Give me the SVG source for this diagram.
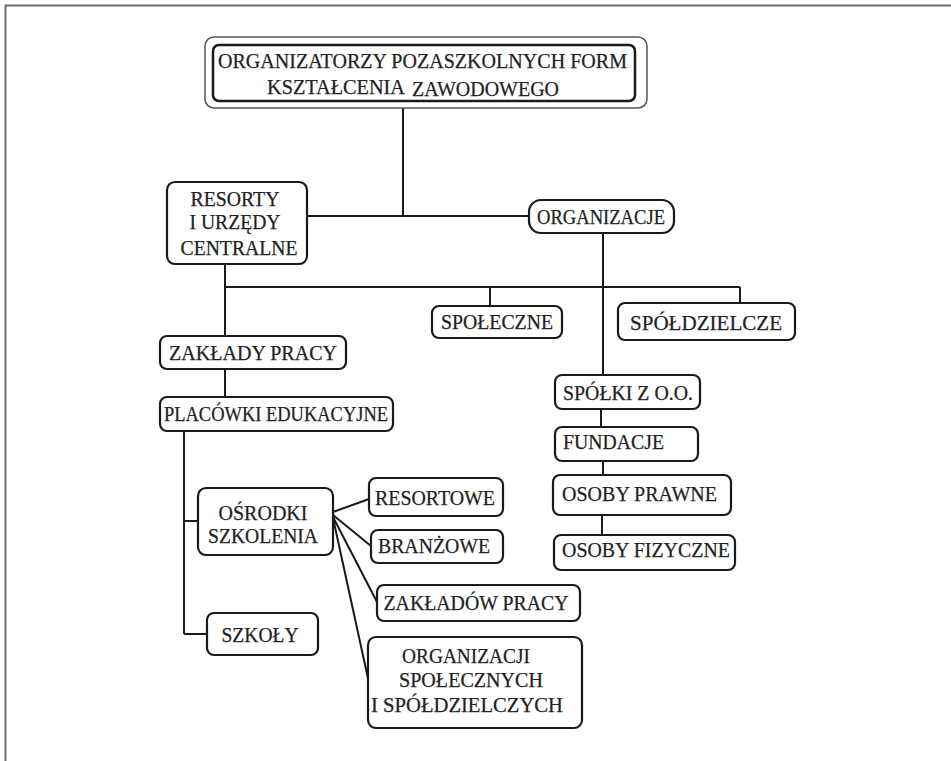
<svg xmlns="http://www.w3.org/2000/svg" width="951" height="761" viewBox="0 0 951 761">
<style>
.box{fill:#fff;stroke:#1a1a1a;stroke-width:2.2}
.ln{fill:none;stroke:#1a1a1a;stroke-width:2}
text{font-family:"Liberation Serif","Times New Roman",serif;font-size:21.5px;fill:#222;stroke:#222;stroke-width:0.25}
.c{text-anchor:middle}
</style>
<rect width="951" height="761" fill="#fff"/>
<path d="M5.5 761V5.5H951" fill="none" stroke="#6e6e6e" stroke-width="2"/>
<g id="connectors">
<path class="ln" d="M403 108V216M307 216H529"/>
<path class="ln" d="M603 233V375"/>
<path class="ln" d="M225 264V336M225 287H740M490 287V306M740 287V303"/>
<path class="ln" d="M225 369V397"/>
<path class="ln" d="M184 431V634M184 521H198M184 634H207"/>
<path class="ln" d="M333 512L369 499M333 515L371 546M333 517L377 602M333 518L369 683"/>
<path class="ln" d="M601 409V427M603 461V475M602 515V535"/>
</g>
<g id="title">
<rect x="205" y="37" width="442" height="71" rx="9" fill="#fff" stroke="#555" stroke-width="1.5"/>
<rect x="213" y="45" width="422" height="56" rx="6" fill="#fff" stroke="#1a1a1a" stroke-width="2.5"/>
<text x="218" y="68" textLength="409" lengthAdjust="spacingAndGlyphs">ORGANIZATORZY POZASZKOLNYCH FORM</text>
<text x="267" y="94" textLength="138" lengthAdjust="spacingAndGlyphs">KSZTAŁCENIA</text>
<text x="412" y="96" textLength="147" lengthAdjust="spacingAndGlyphs">ZAWODOWEGO</text>
</g>
<g id="resorty">
<rect class="box" x="167" y="182" width="140" height="82" rx="8"/>
<text class="c" x="235" y="206" textLength="89" lengthAdjust="spacingAndGlyphs">RESORTY</text>
<text class="c" x="235" y="229" textLength="91" lengthAdjust="spacingAndGlyphs">I URZĘDY</text>
<text class="c" x="239" y="255" textLength="117" lengthAdjust="spacingAndGlyphs">CENTRALNE</text>
</g>
<g id="organizacje">
<rect class="box" x="529" y="200" width="145" height="33" rx="12"/>
<text class="c" x="601" y="224" textLength="128" lengthAdjust="spacingAndGlyphs">ORGANIZACJE</text>
</g>
<g id="spoleczne">
<rect class="box" x="432" y="306" width="130" height="32" rx="7"/>
<text class="c" x="497" y="329" textLength="112" lengthAdjust="spacingAndGlyphs">SPOŁECZNE</text>
</g>
<g id="spoldzielcze">
<rect class="box" x="618" y="303" width="177" height="37" rx="7"/>
<text class="c" x="706" y="330" textLength="152" lengthAdjust="spacingAndGlyphs">SPÓŁDZIELCZE</text>
</g>
<g id="zaklady-pracy">
<rect class="box" x="160" y="336" width="186" height="33" rx="7"/>
<text class="c" x="253" y="360" textLength="168" lengthAdjust="spacingAndGlyphs">ZAKŁADY PRACY</text>
</g>
<g id="placowki">
<rect class="box" x="160" y="397" width="233" height="34" rx="7"/>
<text class="c" x="276" y="421" textLength="224" lengthAdjust="spacingAndGlyphs">PLACÓWKI EDUKACYJNE</text>
</g>
<g id="osrodki">
<rect class="box" x="198" y="488" width="135" height="67" rx="8"/>
<text class="c" x="263" y="520" textLength="89" lengthAdjust="spacingAndGlyphs">OŚRODKI</text>
<text class="c" x="263" y="543" textLength="110" lengthAdjust="spacingAndGlyphs">SZKOLENIA</text>
</g>
<g id="szkoly">
<rect class="box" x="207" y="613" width="111" height="42" rx="7"/>
<text class="c" x="260" y="642" textLength="77" lengthAdjust="spacingAndGlyphs">SZKOŁY</text>
</g>
<g id="resortowe">
<rect class="box" x="369" y="478" width="134" height="38" rx="7"/>
<text class="c" x="435" y="505" textLength="120" lengthAdjust="spacingAndGlyphs">RESORTOWE</text>
</g>
<g id="branzowe">
<rect class="box" x="371" y="530" width="132" height="33" rx="7"/>
<text class="c" x="434" y="553" textLength="112" lengthAdjust="spacingAndGlyphs">BRANŻOWE</text>
</g>
<g id="zakladow-pracy">
<rect class="box" x="377" y="585" width="203" height="36" rx="7"/>
<text class="c" x="476" y="610" textLength="185" lengthAdjust="spacingAndGlyphs">ZAKŁADÓW PRACY</text>
</g>
<g id="organizacji">
<rect class="box" x="368" y="637" width="214" height="91" rx="8"/>
<text class="c" x="466" y="663" textLength="128" lengthAdjust="spacingAndGlyphs">ORGANIZACJI</text>
<text class="c" x="471" y="687" textLength="144" lengthAdjust="spacingAndGlyphs">SPOŁECZNYCH</text>
<text class="c" x="467" y="712" textLength="192" lengthAdjust="spacingAndGlyphs">I SPÓŁDZIELCZYCH</text>
</g>
<g id="spolki">
<rect class="box" x="555" y="375" width="145" height="34" rx="7"/>
<text x="563" y="400" textLength="130" lengthAdjust="spacingAndGlyphs">SPÓŁKI Z O.O.</text>
</g>
<g id="fundacje">
<rect class="box" x="555" y="427" width="143" height="34" rx="7"/>
<text x="563" y="449" textLength="101" lengthAdjust="spacingAndGlyphs">FUNDACJE</text>
</g>
<g id="osoby-prawne">
<rect class="box" x="553" y="475" width="178" height="40" rx="7"/>
<text x="562" y="501" textLength="155" lengthAdjust="spacingAndGlyphs">OSOBY PRAWNE</text>
</g>
<g id="osoby-fizyczne">
<rect class="box" x="554" y="535" width="181" height="35" rx="7"/>
<text x="562" y="557" textLength="168" lengthAdjust="spacingAndGlyphs">OSOBY FIZYCZNE</text>
</g>
</svg>
